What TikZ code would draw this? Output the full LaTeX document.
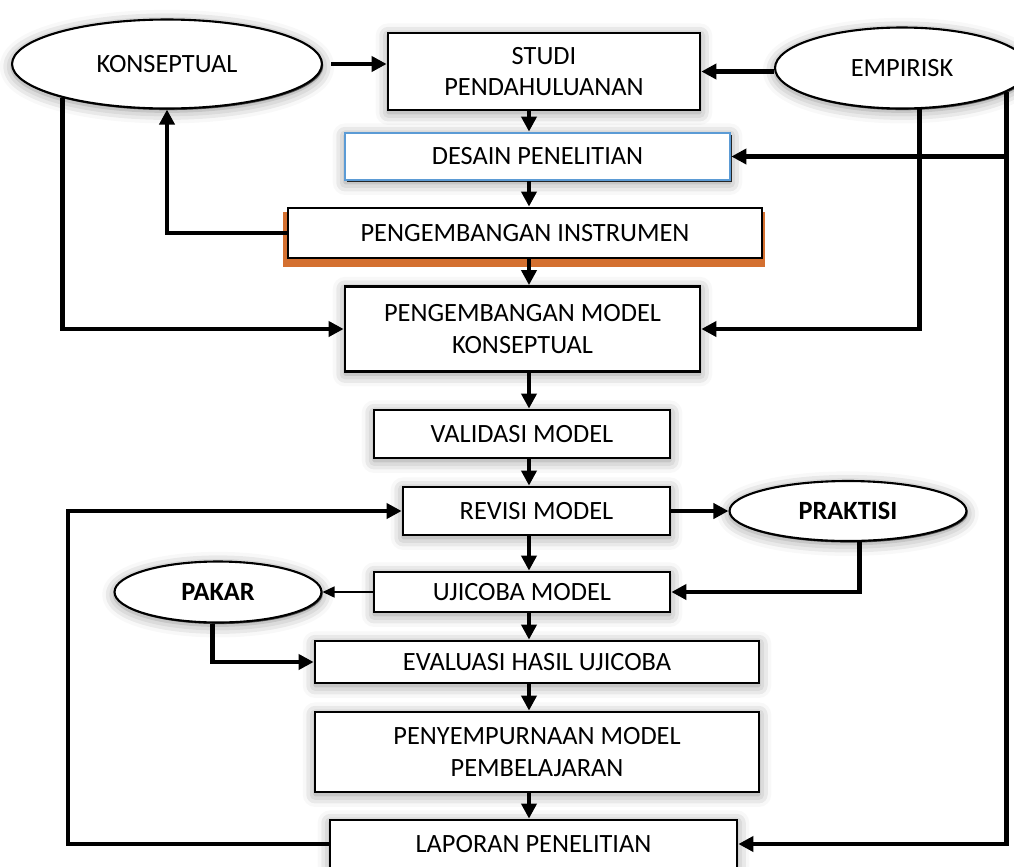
\documentclass[tikz,border=0pt]{standalone}
\usepackage{fontspec}
\setmainfont{Carlito}
\usepackage{tikz}
\usetikzlibrary{arrows.meta,shapes.geometric,shadows,shadows.blur,backgrounds}
\usepackage{xcolor}
\definecolor{desainblue}{RGB}{91,155,213}
\definecolor{instrorange}{RGB}{212,112,48}
\tikzset{
  stepbase/.style={rectangle, draw=black, line width=1.6pt, fill=white, align=center, inner sep=2pt},
  stepbox/.style={stepbase,
                  blur shadow={shadow xshift=0pt, shadow yshift=-1.5pt, shadow blur radius=7pt, shadow opacity=45},
                  general shadow={fill=black!75, shadow xshift=0.8pt, shadow yshift=-0.8pt}},
  stepblue/.style={stepbase, draw=desainblue,
                   blur shadow={shadow xshift=0pt, shadow yshift=-1.5pt, shadow blur radius=7pt, shadow opacity=45},
                   general shadow={fill=black!85, shadow xshift=1.1pt, shadow yshift=-1.1pt}},
  steporange/.style={stepbase, general shadow={fill=black!75, shadow xshift=0.8pt, shadow yshift=-0.8pt}},
  source/.style={ellipse, draw=black, line width=1.2pt, fill=white, inner sep=0pt, align=center,
                 blur shadow={shadow xshift=0pt, shadow yshift=-1.5pt, shadow blur radius=7pt, shadow opacity=45},
                 general shadow={fill=black!70, shadow xshift=0.7pt, shadow yshift=-0.9pt}},
  arrow/.style={-{Triangle[length=3mm, width=3mm]}, line width=2.6pt},
  arrowthin/.style={-{Triangle[length=2.4mm, width=2.2mm]}, line width=0.9pt},
}
\begin{document}
\begin{tikzpicture}[x=0.02cm, y=-0.02cm, every node/.style={font=\fontsize{15}{18}\selectfont}]
\useasboundingbox (0,0) rectangle (1014,866);

% ---- Sources ----
\node[source, minimum width=6.2cm, minimum height=1.78cm] (konsep) at (167,64) {KONSEPTUAL};
\node[source, minimum width=5.08cm, minimum height=1.62cm] (empir) at (902,68) {EMPIRISK};
\node[source, minimum width=4.74cm, minimum height=1.2cm] (praktisi) at (848,511) {\bfseries PRAKTISI};
\node[source, minimum width=4.14cm, minimum height=1.22cm] (pakar) at (218,592) {\bfseries PAKAR};

% ---- Main column ----
\node[stepbox, minimum width=6.24cm, minimum height=1.54cm] (studi) at (544,71.5) {STUDI\\PENDAHULUANAN};
\node[stepblue, minimum width=7.7cm, minimum height=0.94cm] (desain) at (537.5,156.5) {DESAIN PENELITIAN};
\node[steporange, minimum width=9.48cm, minimum height=1.0cm] (instr) at (525,233) {PENGEMBANGAN INSTRUMEN};
\node[stepbox, minimum width=7.1cm, minimum height=1.7cm] (model) at (522.5,329) {PENGEMBANGAN MODEL\\KONSEPTUAL};
\node[stepbox, minimum width=5.92cm, minimum height=0.96cm] (valid) at (522,434) {VALIDASI MODEL};
\node[stepbox, minimum width=5.34cm, minimum height=0.96cm] (revisi) at (536.5,511) {REVISI MODEL};
\node[stepbox, minimum width=5.92cm, minimum height=0.8cm] (ujicoba) at (522,592) {UJICOBA MODEL};
\node[stepbox, minimum width=8.88cm, minimum height=0.84cm] (evaluasi) at (537,662) {EVALUASI HASIL UJICOBA};
\node[stepbox, minimum width=8.88cm, minimum height=1.6cm] (sempurna) at (537,752) {PENYEMPURNAAN MODEL\\PEMBELAJARAN};
\node[stepbox, minimum width=8.14cm, minimum height=0.96cm] (lapor) at (533.5,844) {LAPORAN PENELITIAN};

% orange edge behind the instrument box
\begin{scope}[on background layer]
  \fill[instrorange] ([shift={(-4,8)}]instr.south west) rectangle ([shift={(2,5)}]instr.north east);
\end{scope}

% ---- Arrows ----
\coordinate (spine) at (529,0);
\foreach \a/\b in {studi/desain, desain/instr, instr/model, model/valid, valid/revisi,
                   revisi/ujicoba, ujicoba/evaluasi, evaluasi/sempurna, sempurna/lapor}
  \draw[arrow] (\a.south -| spine) -- (\b.north -| spine);

\draw[arrow, shorten <=0.16cm] (konsep) -- (konsep -| studi.west);
\draw[arrow] (studi.east -| empir.west) -- (studi.east);
\draw[arrow] (instr.west) -| (konsep.south);
\draw[arrow] (konsep.198) |- (model);
\draw[arrow] (empir.293) |- (model);
\draw[arrow] (empir.-13) |- (lapor);
\draw[arrow] (empir.-13 |- desain) -- (desain);

% ---- Loop back to revision ----
\coordinate (loop) at (68,511);
\draw[arrow] (lapor) -| (loop) -- (revisi);
\draw[arrow] (revisi) -- (praktisi);
\draw[arrow] (praktisi.-70) |- (ujicoba);
\draw[arrowthin] (ujicoba) -- (pakar);
\draw[arrow] (pakar.-100) |- (evaluasi);
\end{tikzpicture}
\end{document}
